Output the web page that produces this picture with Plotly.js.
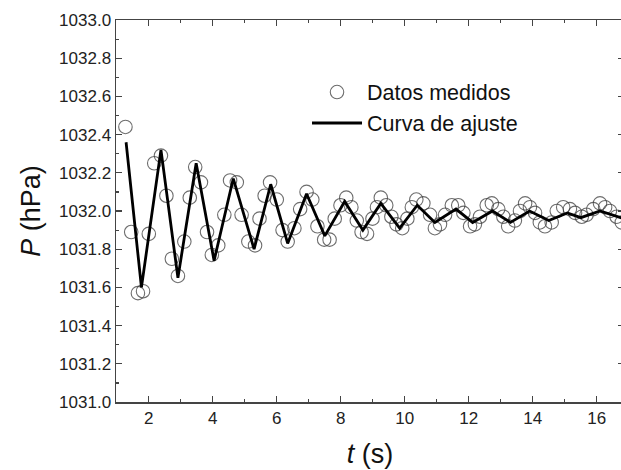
<!DOCTYPE html>
<html>
<head>
<meta charset="utf-8">
<script src="https://cdn.plot.ly/plotly-3.0.1.min.js"></script>
<style>
html,body{margin:0;padding:0;overflow:hidden;background:#fff;width:621px;height:470px;}
#chart{width:626px;height:470px;}
</style>
</head>
<body>
<div id="chart"></div>
<script>
// Measured data (time in s, pressure in hPa)
const tData = [1.27,1.45,1.66,1.82,2.00,2.17,2.38,2.55,2.72,2.91,3.11,3.28,3.45,3.63,3.82,3.97,
  4.17,4.36,4.54,4.75,4.90,5.11,5.32,5.46,5.62,5.79,6.00,6.18,6.34,6.55,6.73,6.93,7.11,7.27,
  7.48,7.65,7.81,7.99,8.17,8.33,8.50,8.65,8.82,8.99,9.13,9.25,9.42,9.58,9.74,9.92,10.08,10.22,10.36,
  10.58,10.79,10.94,11.10,11.26,11.47,11.67,11.83,12.04,12.19,12.35,12.56,12.72,12.92,13.08,13.23,
  13.44,13.60,13.76,13.91,14.07,14.22,14.38,14.59,14.75,14.95,15.16,15.32,15.53,15.68,15.89,16.10,
  16.26,16.41,16.62,16.78];
const pData = [1032.44,1031.89,1031.57,1031.58,1031.88,1032.25,1032.29,1032.08,1031.75,1031.66,1031.84,1032.07,1032.23,1032.15,1031.89,1031.77,
  1031.82,1031.98,1032.16,1032.15,1031.98,1031.84,1031.82,1031.96,1032.08,1032.15,1032.06,1031.90,1031.84,1031.91,1032.01,1032.10,1032.06,1031.92,
  1031.85,1031.85,1031.96,1032.03,1032.07,1032.02,1031.95,1031.89,1031.88,1031.96,1032.02,1032.07,1032.03,1031.97,1031.93,1031.91,1031.96,1032.02,1032.06,
  1032.04,1031.98,1031.91,1031.93,1031.98,1032.03,1032.03,1031.99,1031.92,1031.93,1031.97,1032.03,1032.04,1032.01,1031.97,1031.92,
  1031.95,1032.00,1032.04,1032.02,1031.99,1031.94,1031.92,1031.94,1032.00,1032.02,1032.01,1031.99,1031.97,1031.98,1032.01,1032.04,
  1032.02,1032.00,1031.97,1031.94];

// Fit curve vertices
const tFit = [1.29,1.77,2.38,2.91,3.48,4.04,4.64,5.29,5.81,6.34,6.93,7.50,8.12,8.69,9.25,9.84,10.39,10.94,11.60,12.12,12.74,13.30,13.90,14.50,15.08,15.50,16.10,16.85];
const pFit = [1032.36,1031.60,1032.32,1031.65,1032.25,1031.74,1032.17,1031.80,1032.14,1031.83,1032.09,1031.87,1032.05,1031.90,1032.04,1031.91,1032.03,1031.94,1032.01,1031.94,1032.00,1031.94,1032.00,1031.95,1031.99,1031.965,1032.00,1031.96];

const seriesNames = ["Datos medidos","Curva de ajuste"];
const xTitle = "<i>t</i> (s)";
const yTitle = "<i>P</i> (hPa)";

const FONT = "Arial, 'Liberation Sans', sans-serif";

const traces = [
  {x:tData, y:pData, type:'scatter', mode:'markers', name:seriesNames[0],
   marker:{symbol:'circle-open', size:13.5, color:'rgba(60,60,60,0.75)', line:{width:1.1}}},
  {x:tFit, y:pFit, type:'scatter', mode:'lines', name:seriesNames[1],
   line:{color:'#000', width:2.8}}
];

const axisCommon = {
  showline:true, linecolor:'#444', linewidth:1.5, mirror:'allticks',
  ticks:'inside', ticklen:6, tickwidth:1.2, tickcolor:'#444',
  showgrid:false, zeroline:false,
  tickfont:{family:FONT, size:17, color:'#222'}
};

const layout = {
  width:626, height:470,
  margin:{l:116, r:2, t:20, b:68},
  paper_bgcolor:'#fff', plot_bgcolor:'#fff',
  showlegend:true,
  legend:{x:0.376, y:0.865, xanchor:'left', yanchor:'top', bgcolor:'rgba(0,0,0,0)',
          font:{family:FONT, size:21.5, color:'#111'}, itemwidth:50, tracegroupgap:0},
  xaxis:Object.assign({}, axisCommon, {
    range:[0.975, 16.85], tick0:2, dtick:2,
    minor:{ticks:'inside', dtick:1, tick0:1, ticklen:3, tickcolor:'#444', tickwidth:1.2},
    title:{text:xTitle, font:{family:FONT, size:27, color:'#111'}, standoff:17}
  }),
  yaxis:Object.assign({}, axisCommon, {
    range:[1031, 1033], tick0:1031, dtick:0.2, tickformat:'.1f',
    minor:{ticks:'inside', dtick:0.1, ticklen:3, tickcolor:'#444', tickwidth:1.2},
    title:{text:yTitle, font:{family:FONT, size:27, color:'#111'}, standoff:10}
  })
};

Plotly.newPlot('chart', traces, layout, {staticPlot:true, displayModeBar:false});
</script>
</body>
</html>
